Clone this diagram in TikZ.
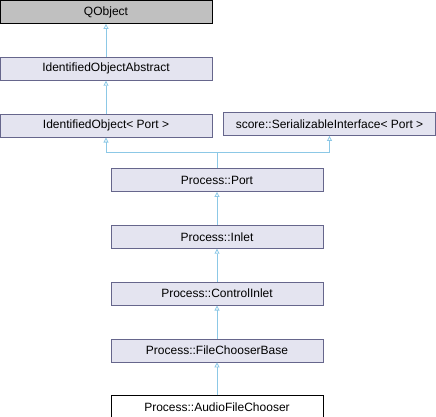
\documentclass[tikz,border=0pt]{standalone}
\usepackage{fontspec}
\setmainfont{Liberation Sans}
\usetikzlibrary{arrows.meta,positioning}
\definecolor{classfill}{RGB}{228,228,240}
\definecolor{classedge}{RGB}{102,102,140}
\definecolor{basefill}{RGB}{192,192,192}
\definecolor{inherit}{RGB}{140,200,230}

\begin{document}
\begin{tikzpicture}[
    x=1pt, y=1pt,
    font=\fontsize{12pt}{14pt}\selectfont,
    cls/.style={draw=classedge, fill=classfill, line width=0.8pt,
                minimum width=212pt, minimum height=23pt, inner sep=0pt},
    basecls/.style={cls, draw=black, fill=basefill},
    thiscls/.style={cls, draw=black, fill=white},
    arr/.style={-{Triangle[open,length=5pt,width=5pt]}, inherit, line width=0.8pt}
  ]
  \useasboundingbox (0,0) rectangle (436,-416);
  \node[basecls] (qobj) at (106,-12) {QObject};
  \node[cls, below=33pt of qobj] (idabs) {IdentifiedObjectAbstract};
  \node[cls, below=33pt of idabs] (idobj) {IdentifiedObject< Port >};
  \node[cls] (serial) at (329.5,-124) {score::SerializableInterface< Port >};
  \node[cls] (port) at (217,-180) {Process::Port};
  \node[cls, below=33pt of port] (inlet) {Process::Inlet};
  \node[cls, below=33pt of inlet] (ctrl) {Process::ControlInlet};
  \node[cls, below=33pt of ctrl] (fcbase) {Process::FileChooserBase};
  \node[thiscls, below=33pt of fcbase] (audio) {Process::AudioFileChooser};
  \draw[arr] (idabs) -- (qobj);
  \draw[arr] (idobj) -- (idabs);
  \draw[arr] (port.north) -- ++(0,16) -| (idobj.south);
  \draw[arr] (port.north) -- ++(0,16) -| (serial.south);
  \draw[arr] (inlet) -- (port);
  \draw[arr] (ctrl) -- (inlet);
  \draw[arr] (fcbase) -- (ctrl);
  \draw[arr] (audio) -- (fcbase);
\end{tikzpicture}
\end{document}
